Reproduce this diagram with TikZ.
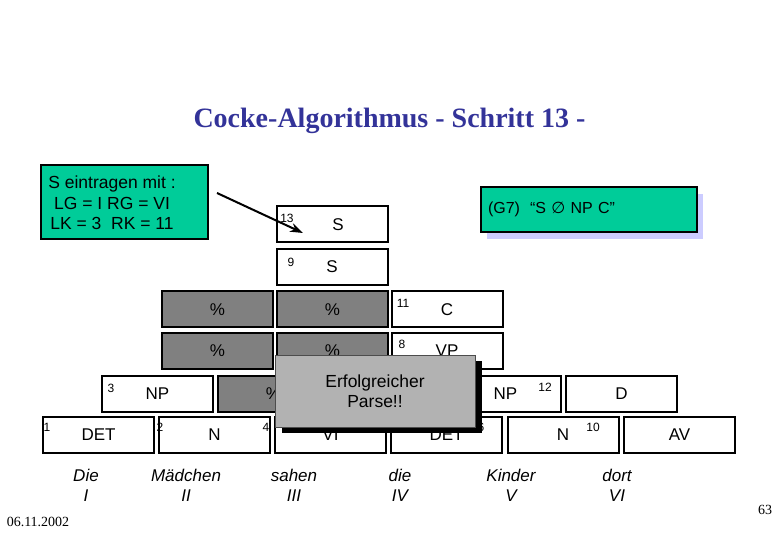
\documentclass[tikz,border=0pt]{standalone}
\usepackage{fontspec}
\setmainfont{Liberation Sans}
\newfontfamily\serifface{Liberation Serif}
\newfontfamily\symface{DejaVu Sans}
\usetikzlibrary{arrows.meta,shadows}
\definecolor{cMint}{HTML}{00CC99}
\definecolor{cLilac}{HTML}{CCCCFF}
\definecolor{cDone}{HTML}{808080}
\definecolor{cMsg}{HTML}{B2B2B2}
\definecolor{cHead}{HTML}{333399}
\tikzset{
  cell/.style={draw=black, line width=2pt, fill=#1, minimum width=111pt,
               minimum height=36pt, inner sep=0pt,
               font={\fontsize{17}{20}\selectfont}},
  cell/.default=white,
  idx/.style={inner sep=0pt, font={\fontsize{12}{14}\selectfont}},
  word/.style={inner sep=0pt, align=center,
               font={\fontsize{17}{20}\selectfont\itshape}},
  note/.style={draw=black, line width=2pt, fill=cMint,
               minimum width=167pt, minimum height=74pt},
  notetext/.style={inner sep=0pt, align=center,
                   font={\fontsize{17.5}{20.5}\selectfont}},
  rulebox/.style={draw=black, line width=2pt, fill=cMint, align=left,
                  minimum width=216pt, minimum height=45pt, text width=202pt,
                  inner xsep=7pt, font={\fontsize{16}{19}\selectfont},
                  drop shadow={shadow xshift=6pt, shadow yshift=-7pt,
                               fill=cLilac, opacity=1}},
  msg/.style={draw=black!70, line width=0.8pt, fill=cMsg, align=center,
              minimum width=200pt, minimum height=72pt,
              font={\fontsize{17.5}{20}\selectfont},
              drop shadow={shadow xshift=7pt, shadow yshift=-6pt,
                           fill=black, opacity=1}},
  pointer/.style={-{Stealth[length=13pt,width=9pt]}, line width=2pt},
  small/.style={inner sep=0pt, font={\serifface\fontsize{14}{16}\selectfont}},
}

\begin{document}
\begin{tikzpicture}[x=1pt, y=-1pt]
  \useasboundingbox (0,0) rectangle (780,540);

  \node[anchor=base, inner sep=0pt, text=cHead,
        font={\serifface\bfseries\fontsize{28}{32}\selectfont}] (title)
        at (389.5,128) {Cocke-Algorithmus - Schritt 13 -};

  % chart, bottom row first
  \node[cell] (a1) at (98.5,435) {DET};
  \node[cell] (a2) at (214.5,435) {N};
  \node[cell] (a3) at (330.5,435) {VI};
  \node[cell] (a4) at (446.5,435) {DET};
  \node[cell] (a5) at (563,435) {N};
  \node[cell] (a6) at (679.5,435) {AV};

  \node[cell] (b1) at (157.5,394) {NP};
  \node[cell=cDone] (b2) at (273.5,394) {\%};
  \node[cell] (b4) at (505.5,394) {NP};
  \node[cell] (b5) at (621.5,394) {D};

  \node[cell=cDone] (c1) at (217.5,351) {\%};
  \node[cell=cDone] (c2) at (332.5,351) {\%};
  \node[cell] (c3) at (447,351) {VP};

  \node[cell=cDone] (d1) at (217.5,309.5) {\%};
  \node[cell=cDone] (d2) at (332.5,309.5) {\%};
  \node[cell] (d3) at (447,309.5) {C};

  \node[cell] (e1) at (332,267) {S};
  \node[cell] (f1) at (332,224.5) {\hspace*{12pt}S};

  % step numbers
  \node[idx] (k1) at (47,427) {1};
  \node[idx] (k2) at (160,427) {2};
  \node[idx] (k4) at (266,427) {4};
  \node[idx] (k6) at (481,427) {6};
  \node[idx] (k10) at (593,427) {10};
  \node[idx] (k3) at (111,388) {3};
  \node[idx] (k12) at (545,387) {12};
  \node[idx] (k8) at (402,344) {8};
  \node[idx] (k11) at (403,303) {11};
  \node[idx] (k9) at (291,262) {9};
  \node[idx] (k13) at (287,218) {13};

  % words of the sentence
  \node[word] (w1) at (86,485) {Die\\I};
  \node[word] (w2) at (186,485) {Mädchen\\II};
  \node[word] (w3) at (294,485) {sahen\\III};
  \node[word] (w4) at (400,485) {die\\IV};
  \node[word] (w5) at (511,485) {Kinder\\V};
  \node[word] (w6) at (617,485) {dort\\VI};

  \node[note] (task) at (124.5,202) {};
  \node[notetext] (tasktext) at (112,203)
        {S eintragen mit :\\LG = I RG = VI\\LK = 3\ \ RK = 11};
  \node[rulebox] (g7) at (589,209.5)
        {(G7)\hspace{10pt}“S {\symface ∅} NP C”};

  \coordinate (from) at (217,193);
  \coordinate (tip) at (303,233);
  \draw[pointer] (from) -- (tip);

  \node[msg] (parse) at (375,391) {Erfolgreicher\\Parse!!};

  \node[small] (date) at (38,522) {06.11.2002};
  \node[small] (page) at (765,510) {63};
\end{tikzpicture}
\end{document}
